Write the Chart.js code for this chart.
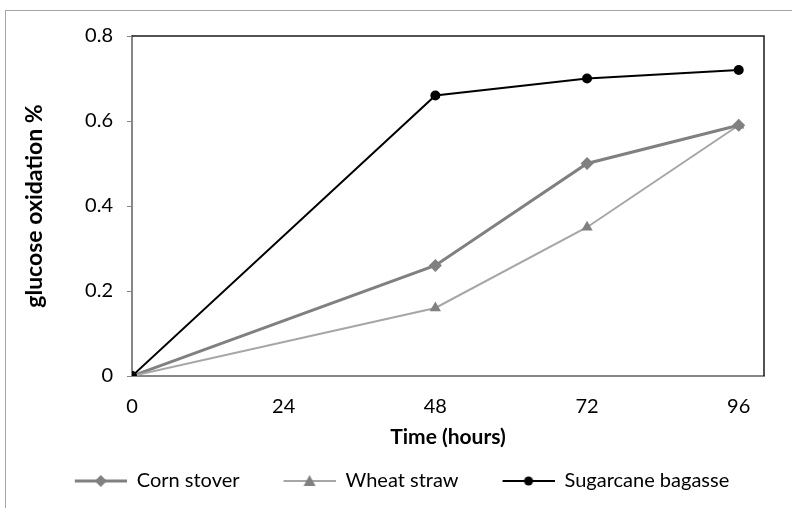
<!DOCTYPE html>
<html>
<head>
<meta charset="utf-8">
<script src="https://cdn.jsdelivr.net/npm/chart.js@4"></script>
<style>
  body { margin: 0; background: #fff; }
  #wrap { position: relative; width: 792px; height: 508px; overflow: hidden; }
  #frame { position: absolute; left: 5px; top: 10px; width: 900px; height: 600px; border: 1px solid #a6a6a6; }
  #chart { position: absolute; left: 0; top: 0; }
</style>
</head>
<body>
<div id="wrap">
  <div id="frame"></div>
  <canvas id="chart" width="792" height="508"></canvas>
</div>
<script>
const hours = [0, 48, 72, 96];
const cornStover = [0, 0.26, 0.50, 0.59];
const wheatStraw = [0, 0.16, 0.35, 0.59];
const sugarcaneBagasse = [0, 0.66, 0.70, 0.72];
const seriesNames = ['Corn stover', 'Wheat straw', 'Sugarcane bagasse'];
const xTicks = [0, 24, 48, 72, 96];

const FONT = 'Lato, "Open Sans", sans-serif';

function pts(ys) {
  return hours.map((x, i) => ({ x, y: ys[i] }));
}

// legend icon: short line with the marker in the middle, blank space on the left acts as gap
function legendIcon(lineColor, lineWidth, marker, markerColor) {
  const c = document.createElement('canvas');
  c.width = 92; c.height = 16;
  const g = c.getContext('2d');
  g.strokeStyle = lineColor;
  g.lineWidth = lineWidth;
  g.beginPath(); g.moveTo(40, 8); g.lineTo(92, 8); g.stroke();
  g.fillStyle = markerColor;
  g.beginPath();
  const cx = 66, cy = 8;
  if (marker === 'rectRot') {
    g.moveTo(cx, cy - 6); g.lineTo(cx + 6, cy); g.lineTo(cx, cy + 6); g.lineTo(cx - 6, cy);
  } else if (marker === 'triangle') {
    g.moveTo(cx, cy - 6); g.lineTo(cx + 6, cy + 5); g.lineTo(cx - 6, cy + 5);
  } else {
    g.arc(cx, cy, 4.5, 0, Math.PI * 2);
  }
  g.closePath(); g.fill();
  return c;
}

const icons = [
  legendIcon('#808080', 3, 'rectRot', '#808080'),
  legendIcon('#a6a6a6', 2, 'triangle', '#808080'),
  legendIcon('#000000', 2, 'circle', '#000000'),
];

const plotFrame = {
  id: 'plotFrame',
  afterDraw(chart) {
    const { ctx, chartArea: a } = chart;
    ctx.save();
    ctx.strokeStyle = '#1a1a1a';
    ctx.lineWidth = 1.5;
    ctx.beginPath();
    ctx.moveTo(a.left, a.top);
    ctx.lineTo(a.right, a.top);
    ctx.lineTo(a.right, a.bottom);
    ctx.stroke();
    ctx.restore();
  },
};

new Chart(document.getElementById('chart'), {
  type: 'line',
  data: {
    datasets: [
      { label: seriesNames[0], data: pts(cornStover), borderColor: '#808080', borderWidth: 3,
        pointStyle: 'rectRot', pointRadius: 6.5, pointBackgroundColor: '#808080', pointBorderWidth: 0, order: 2 },
      { label: seriesNames[1], data: pts(wheatStraw), borderColor: '#a6a6a6', borderWidth: 2,
        pointStyle: 'triangle', pointRadius: 6.5, pointBackgroundColor: '#808080', pointBorderWidth: 0, order: 1 },
      { label: seriesNames[2], data: pts(sugarcaneBagasse), borderColor: '#000000', borderWidth: 2,
        pointStyle: 'circle', pointRadius: 5, pointBackgroundColor: '#000000', pointBorderWidth: 0, order: 0 },
    ],
  },
  options: {
    responsive: false,
    animation: false,
    layout: { padding: { left: 0, right: 28, top: 36, bottom: 7 } },
    plugins: {
      tooltip: { enabled: false },
      legend: {
        position: 'bottom',
        labels: {
          usePointStyle: true,
          pointStyleWidth: 92,
          padding: 4,
          color: '#000',
          font: { family: FONT, size: 20 },
          generateLabels: (chart) => chart.data.datasets.map((ds, i) => ({
            text: ds.label,
            pointStyle: icons[i],
            fillStyle: 'transparent',
            strokeStyle: 'transparent',
            lineWidth: 0,
            fontColor: '#000',
            datasetIndex: i,
          })),
        },
      },
    },
    scales: {
      x: {
        type: 'linear',
        min: 0,
        max: 100,
        afterBuildTicks: (s) => { s.ticks = xTicks.map((v) => ({ value: v })); },
        afterFit: (s) => { s.height = 91; },
        grid: { display: false, drawTicks: false },
        border: { display: true, color: '#868686', width: 2 },
        ticks: { color: '#000', padding: 19, font: { family: FONT, size: 20 }, maxRotation: 0 },
        title: { display: true, text: 'Time (hours)', color: '#000',
          font: { family: FONT, size: 21, weight: 'bold' }, padding: { top: 0, bottom: 17 } },
      },
      y: {
        min: 0,
        max: 0.8,
        afterFit: (s) => { s.width = 132; },
        grid: { drawOnChartArea: false, drawTicks: true, tickLength: 5, color: '#868686' },
        border: { display: true, color: '#868686', width: 2 },
        ticks: { stepSize: 0.2, color: '#000', padding: 14, font: { family: FONT, size: 20 },
          callback: (v) => (v === 0 ? '0' : v.toFixed(1)) },
        title: { display: true, text: 'glucose oxidation %', color: '#000',
          font: { family: FONT, size: 23, weight: 'bold' }, padding: { top: 21, bottom: 0 } },
      },
    },
  },
  plugins: [plotFrame],
});
</script>
</body>
</html>
